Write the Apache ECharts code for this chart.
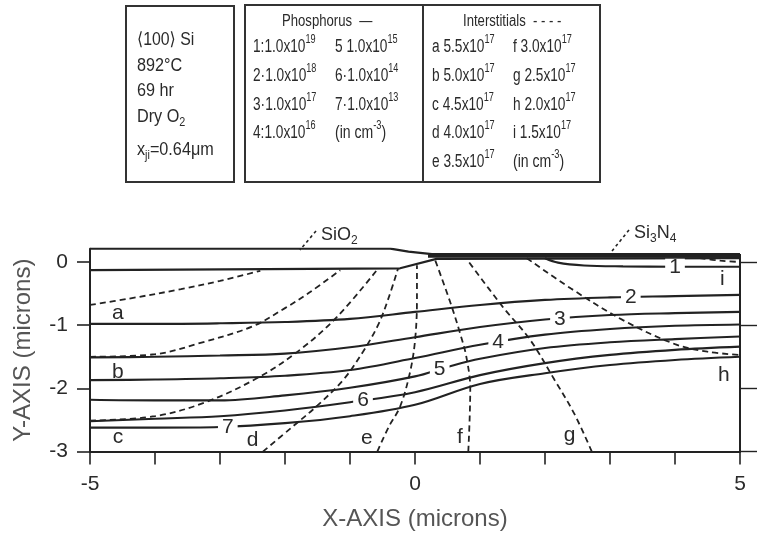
<!DOCTYPE html>
<html><head><meta charset="utf-8">
<script src="https://cdn.jsdelivr.net/npm/echarts@6/dist/echarts.min.js"></script>
<style>html,body{margin:0;padding:0;background:#fff}#c{width:759px;height:538px}</style>
</head><body><div id="c"></div>
<script>
// ---- structure lines (x, y in microns)
const oxideTop = [[-5,0.21],[-0.38,0.21],[-0.1,0.165],[0.26,0.125],[5,0.125]];
const siSurface = [[-5,-0.13],[-0.23,-0.10],[0.33,0.05],[5,0.06]];
const nitride = [[0.2,0.095],[5,0.095]];
const rightEdge = [[5,-3],[5,0.125]];

// ---- phosphorus contours (solid)
const p1 = [[2.0,0.06],[2.2,-0.01],[2.6,-0.055],[3.2,-0.07],[4.0,-0.075],[5,-0.075]];
const p2 = [[-5,-0.98],[-4,-0.98],[-3,-0.97],[-2,-0.95],[-1,-0.90],[0,-0.79],[1,-0.68],[2,-0.60],[3,-0.56],[4,-0.54],[5,-0.52]];
const p3 = [[-5,-1.51],[-4,-1.50],[-3,-1.48],[-2,-1.45],[-1,-1.35],[0,-1.19],[1,-1.03],[2,-0.91],[3,-0.84],[4,-0.81],[5,-0.79]];
const p4 = [[-5,-1.87],[-4,-1.86],[-3,-1.84],[-2,-1.80],[-1,-1.71],[0,-1.52],[1,-1.31],[2,-1.15],[3,-1.06],[4,-1.01],[5,-0.99]];
const p5 = [[-5,-2.18],[-4,-2.19],[-3,-2.19],[-2,-2.11],[-1,-1.99],[0,-1.81],[0.5,-1.66],[1,-1.53],[2,-1.36],[3,-1.27],[4,-1.22],[5,-1.18]];
const p6 = [[-5,-2.52],[-4,-2.48],[-3,-2.44],[-2,-2.35],[-1,-2.22],[0,-2.06],[1,-1.79],[2,-1.60],[3,-1.47],[4,-1.39],[5,-1.34]];
const p7 = [[-5,-2.62],[-4,-2.62],[-3,-2.61],[-2,-2.55],[-1,-2.44],[0,-2.26],[1,-1.93],[2,-1.76],[3,-1.63],[4,-1.55],[5,-1.50]];

// ---- interstitial contours (dashed)
const ia = [[-5,-0.68],[-4.4,-0.58],[-3.6,-0.43],[-3.0,-0.30],[-2.38,-0.14]];
const ib = [[-5,-1.50],[-4,-1.46],[-3.3,-1.28],[-2.5,-1.02],[-2.0,-0.73],[-1.62,-0.48],[-1.15,-0.13]];
const ic = [[-5,-2.51],[-4,-2.44],[-3.2,-2.21],[-2.38,-1.81],[-1.77,-1.39],[-1.2,-0.87],[-0.58,-0.12]];
const id = [[-2.34,-3.0],[-1.9,-2.62],[-1.5,-2.27],[-1.1,-1.86],[-0.8,-1.42],[-0.56,-0.98],[-0.40,-0.55],[-0.26,-0.10]];
const ie = [[-0.58,-3.0],[-0.40,-2.6],[-0.23,-2.29],[-0.08,-1.76],[0.0,-1.25],[0.03,-0.6],[0.03,-0.05]];
const iff = [[0.82,-3.0],[0.84,-2.5],[0.85,-2.0],[0.79,-1.5],[0.70,-1.15],[0.54,-0.63],[0.31,0.03]];
const ig = [[2.72,-3.0],[2.45,-2.4],[2.15,-1.87],[1.77,-1.23],[1.35,-0.71],[0.80,0.04]];
const ih = [[1.72,0.06],[2.4,-0.42],[3.2,-0.92],[4.0,-1.30],[4.5,-1.42],[5.0,-1.47]];
const ii = [[4.38,0.06],[4.7,0.02],[5.0,0.0]];

// ---- curve labels
const contourNames = ['1','2','3','4','5','6','7'];
const contourLabelX = [4.0, 3.32, 2.23, 1.28, 0.38, -0.8, -2.88];
const contourLabelY = [-0.075, -0.55, -0.90, -1.27, -1.70, -2.19, -2.61];
const interNames = ['a','b','c','d','e','f','g','h','i'];
const interLabelX = [-4.57, -4.57, -4.57, -2.5, -0.74, 0.69, 2.38, 4.75, 4.73];
const interLabelY = [-0.81, -1.74, -2.78, -2.82, -2.79, -2.77, -2.74, -1.79, -0.27];

// ---- axis ticks
const xTickLabels = [-5, 0, 5];
const yTicks = [-3, -2, -1, 0];

// ---- legend text
const phosIds = ['1:', '2·', '3·', '4:', '5 ', '6·', '7·'];
const phosMant = ['1.0', '1.0', '1.0', '1.0', '1.0', '1.0', '1.0'];
const phosExp = [19, 18, 17, 16, 15, 14, 13];
const interMant = ['5.5', '5.0', '4.5', '4.0', '3.5', '3.0', '2.5', '2.0', '1.5'];
const interExp = [17, 17, 17, 17, 17, 17, 17, 17, 17];

const FONT = "'Liberation Sans', 'DejaVu Sans', sans-serif";
const INK = '#222';
const TXT = '#2a2a2a';

function solid(data, width, smooth) {
  return { type: 'line', data: data, showSymbol: false, symbol: 'none', smooth: smooth === undefined ? 0.35 : smooth,
    lineStyle: { color: INK, width: width || 2.1 }, silent: true, z: 2 };
}
function dashed(data) {
  return { type: 'line', data: data, showSymbol: false, symbol: 'none', smooth: 0.35,
    lineStyle: { color: INK, width: 1.8, type: [6, 4] }, silent: true, z: 2 };
}

const series = [
  solid(oxideTop, 2.2, false),
  solid(siSurface, 2.2, false),
  solid(nitride, 3.5, false),
  solid(rightEdge, 2, false),
  solid(p1), solid(p2), solid(p3), solid(p4), solid(p5), solid(p6), solid(p7),
  dashed(ia), dashed(ib), dashed(ic), dashed(id), dashed(ie), dashed(iff), dashed(ig), dashed(ih), dashed(ii),
  { type: 'scatter', symbolSize: 1, itemStyle: { color: 'rgba(0,0,0,0)', opacity: 1 }, silent: true, z: 6,
    data: contourNames.map((n, i) => ({ name: n, value: [contourLabelX[i], contourLabelY[i]] })),
    label: { show: true, position: 'inside', formatter: '{b}', fontSize: 21, fontFamily: FONT, color: TXT,
      backgroundColor: '#fff', padding: [0, 4], lineHeight: 16, opacity: 1 } },
  { type: 'scatter', symbolSize: 1, itemStyle: { color: 'rgba(0,0,0,0)', opacity: 1 }, silent: true, z: 6,
    data: interNames.map((n, i) => ({ name: n, value: [interLabelX[i], interLabelY[i]] })),
    label: { show: true, position: 'inside', formatter: '{b}', fontSize: 21, fontFamily: FONT, color: TXT, opacity: 1 } }
];

const rich = {
  n: { fontSize: 18, fontFamily: FONT, color: TXT, lineHeight: 26, verticalAlign: 'middle' },
  s: { fontSize: 12, fontFamily: FONT, color: TXT, lineHeight: 15, verticalAlign: 'top' },
  b: { fontSize: 12, fontFamily: FONT, color: TXT, lineHeight: 15, verticalAlign: 'bottom' },
  big: { fontSize: 18, fontFamily: FONT, color: TXT, lineHeight: 24, verticalAlign: 'middle' },
  t: { fontSize: 16, fontFamily: FONT, color: TXT, lineHeight: 24, verticalAlign: 'middle' }
};
function txt(x, y, text, sx) {
  return { type: 'text', x: x, y: y, z: 10, scaleX: sx || 1,
    style: { text: text, rich: rich, align: 'left', verticalAlign: 'middle', fill: TXT, font: '16px ' + FONT } };
}
function sci(id, mant, exp) { return '{n|' + id + mant + 'x10}{s|' + exp + '}'; }

const graphics = [
  { type: 'rect', shape: { x: 126, y: 6, width: 108, height: 176 }, style: { fill: 'none', stroke: '#333', lineWidth: 2 }, z: 10 },
  { type: 'rect', shape: { x: 245, y: 5, width: 355, height: 177 }, style: { fill: 'none', stroke: '#333', lineWidth: 2 }, z: 10 },
  { type: 'line', shape: { x1: 423, y1: 5, x2: 423, y2: 182 }, style: { stroke: '#333', lineWidth: 2 }, z: 10 },
  txt(137, 40, '{big|⟨100⟩ Si}', 0.88),
  txt(137, 66, '{big|892°C}', 0.9),
  txt(137, 91, '{big|69 hr}', 0.9),
  txt(137, 117, '{big|Dry O}{b|2}', 0.9),
  txt(137, 150, '{big|x}{b|ji}{big|=0.64μm}', 0.9),
  txt(282, 22, '{t|Phosphorus  —}', 0.82),
  txt(463, 22, '{t|Interstitials  - - - -}', 0.82),
  txt(335, 133, '{n|(in cm}{s|-3}{n|)}', 0.78),
  txt(513, 162, '{n|(in cm}{s|-3}{n|)}', 0.78),
  // SiO2 / Si3N4 annotations
  txt(321, 235, '{big|SiO}{b|2}'),
  txt(634, 233, '{big|Si}{b|3}{big|N}{b|4}'),
  { type: 'polyline', shape: { points: [[316, 231], [300, 250]] }, style: { stroke: INK, lineWidth: 1.6, lineDash: [3, 3] }, z: 10 },
  { type: 'polyline', shape: { points: [[629, 230], [612, 251]] }, style: { stroke: INK, lineWidth: 1.6, lineDash: [3, 3] }, z: 10 }
];
const rowY = [47, 76, 105, 133, 162];
for (let i = 0; i < 7; i++) {
  const col = i < 4 ? 0 : 1;
  const row = i < 4 ? i : i - 4;
  graphics.push(txt(col ? 335 : 253, rowY[row], sci(phosIds[i], phosMant[i], phosExp[i]), 0.76));
}
for (let i = 0; i < 9; i++) {
  const col = i < 5 ? 0 : 1;
  const row = i < 5 ? i : i - 5;
  graphics.push(txt(col ? 513 : 432, rowY[row], sci(interNames[i] + ' ', interMant[i], interExp[i]), 0.76));
}

const chart = echarts.init(document.getElementById('c'));
chart.setOption({
  animation: false,
  backgroundColor: '#fff',
  grid: { left: 90, right: 19, top: 248.7, bottom: 86.4, containLabel: false },
  xAxis: {
    type: 'value', min: -5, max: 5, interval: 1,
    axisLine: { show: true, onZero: false, lineStyle: { color: INK, width: 2 } },
    axisTick: { show: true, inside: false, length: 13, lineStyle: { color: INK, width: 1.6 } },
    axisLabel: { show: true, customValues: xTickLabels, margin: 22, fontSize: 21, fontFamily: FONT, color: TXT },
    splitLine: { show: false },
    name: 'X-AXIS (microns)', nameLocation: 'middle', nameGap: 56,
    nameTextStyle: { fontSize: 24, fontFamily: FONT, color: '#555' }
  },
  yAxis: [{
    type: 'value', min: -3, max: 0.21, position: 'left',
    axisLine: { show: true, onZero: false, lineStyle: { color: INK, width: 2 } },
    axisTick: { show: true, inside: false, length: 13, customValues: yTicks, lineStyle: { color: INK, width: 1.6 } },
    axisLabel: { show: true, customValues: yTicks, margin: 22, fontSize: 21, fontFamily: FONT, color: TXT },
    splitLine: { show: false },
    name: 'Y-AXIS (microns)', nameLocation: 'middle', nameGap: 55,
    nameTextStyle: { fontSize: 24, fontFamily: FONT, color: '#555' }
  }, {
    type: 'value', min: -3, max: 0.21, position: 'right',
    axisLine: { show: false, onZero: false },
    axisTick: { show: true, inside: false, length: 17, customValues: yTicks, lineStyle: { color: INK, width: 1.4 } },
    axisLabel: { show: false },
    splitLine: { show: false }
  }],
  series: series,
  graphic: graphics
});
</script></body></html>
